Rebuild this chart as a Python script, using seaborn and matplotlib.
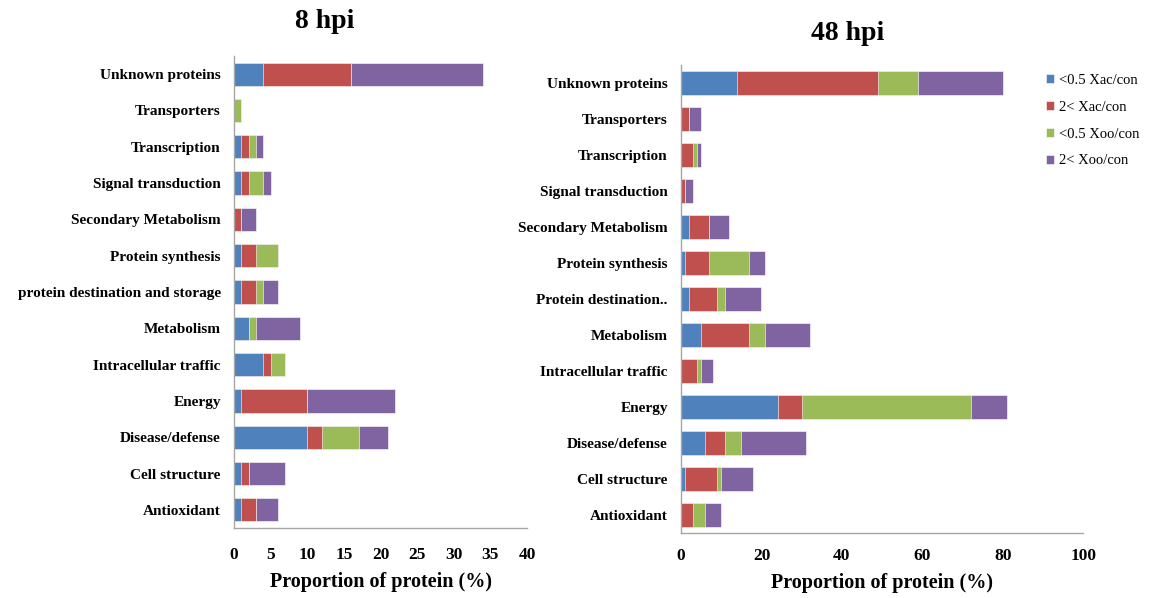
import matplotlib
matplotlib.use("Agg")
import matplotlib.pyplot as plt
import matplotlib.patches as mpatches
import numpy as np
import pandas as pd
import seaborn as sns

sns.set_theme(style="white")
plt.rcParams["font.family"] = ["Liberation Serif", "DejaVu Serif"]
plt.rcParams["text.color"] = "black"
plt.rcParams["xtick.color"] = "black"
plt.rcParams["ytick.color"] = "black"
plt.rcParams["axes.labelcolor"] = "black"

# Functional categories (top to bottom)
categories_8 = [
    "Unknown proteins", "Transporters", "Transcription", "Signal transduction",
    "Secondary Metabolism", "Protein synthesis", "protein destination and storage",
    "Metabolism", "Intracellular traffic", "Energy", "Disease/defense",
    "Cell structure", "Antioxidant",
]
categories_48 = [
    "Unknown proteins", "Transporters", "Transcription", "Signal transduction",
    "Secondary Metabolism", "Protein synthesis", "Protein destination..",
    "Metabolism", "Intracellular traffic", "Energy", "Disease/defense",
    "Cell structure", "Antioxidant",
]

series_names = ["<0.5 Xac/con", "2< Xac/con", "<0.5 Xoo/con", "2< Xoo/con"]
series_colors = ["#4F81BD", "#C0504D", "#9BBB59", "#8064A2"]

# 8 hpi proportions (%)
xac_down_8 = [4, 0, 1, 1, 0, 1, 1, 2, 4, 1, 10, 1, 1]
xac_up_8 = [12, 0, 1, 1, 1, 2, 2, 0, 1, 9, 2, 1, 2]
xoo_down_8 = [0, 1, 1, 2, 0, 3, 1, 1, 2, 0, 5, 0, 0]
xoo_up_8 = [18, 0, 1, 1, 2, 0, 2, 6, 0, 12, 4, 5, 3]

# 48 hpi proportions (%)
xac_down_48 = [14, 0, 0, 0, 2, 1, 2, 5, 0, 24, 6, 1, 0]
xac_up_48 = [35, 2, 3, 1, 5, 6, 7, 12, 4, 6, 5, 8, 3]
xoo_down_48 = [10, 0, 1, 0, 0, 10, 2, 4, 1, 42, 4, 1, 3]
xoo_up_48 = [21, 3, 1, 2, 5, 4, 9, 11, 3, 9, 16, 8, 4]

fig = plt.figure(figsize=(11.51, 5.98), dpi=100)
ax1 = fig.add_axes([0.2033, 0.1171, 0.2546, 0.7893])
ax2 = fig.add_axes([0.5917, 0.1087, 0.3493, 0.7826])


def stacked(ax, cats, layers, xmax, step, title, title_xy, tickpad):
    df = pd.DataFrame({"category": cats})
    cum = np.cumsum(np.array(layers, dtype=float), axis=0)
    # draw cumulative totals from the outermost segment inwards
    for i in range(len(layers) - 1, -1, -1):
        df["total"] = cum[i]
        sns.barplot(data=df, x="total", y="category", orient="h", ax=ax,
                    color=series_colors[i], saturation=1, width=0.64,
                    edgecolor="white", linewidth=0.4, order=cats)
    ax.set_xlim(0, xmax)
    ax.set_ylim(len(cats) - 0.5, -0.5)
    ax.set_xticks(np.arange(0, xmax + 0.1, step))
    ax.set_xticklabels([f"{int(v)}" for v in np.arange(0, xmax + 0.1, step)],
                       fontsize=12.5, fontweight="bold")
    ax.tick_params(axis="x", length=0, pad=tickpad)
    ax.tick_params(axis="y", length=0, pad=9.5)
    for lbl in ax.get_yticklabels():
        lbl.set_fontsize(11)
        lbl.set_fontweight("bold")
    ax.set_ylabel("")
    ax.set_xlabel("Proportion of protein (%)", fontsize=14.5, fontweight="bold",
                  labelpad=6)
    for side in ["top", "right"]:
        ax.spines[side].set_visible(False)
    for side in ["left", "bottom"]:
        ax.spines[side].set_color("#A6A6A6")
        ax.spines[side].set_linewidth(1.0)
    ax.grid(False)
    fig.text(title_xy[0], title_xy[1], title, ha="center", va="center",
             fontsize=20, fontweight="bold")


stacked(ax1, categories_8, [xac_down_8, xac_up_8, xoo_down_8, xoo_up_8],
        40, 5, "8 hpi", (325 / 1151, 1 - 22 / 598), 14)
stacked(ax2, categories_48, [xac_down_48, xac_up_48, xoo_down_48, xoo_up_48],
        100, 20, "48 hpi", (848 / 1151, 1 - 33 / 598), 11)

handles = [mpatches.Patch(facecolor=c, edgecolor="white", linewidth=0.4, label=n)
           for n, c in zip(series_names, series_colors)]
fig.legend(handles=handles, loc="upper left",
           bbox_to_anchor=(1040 / 1151, 1 - 68 / 598), frameon=False,
           fontsize=10.5, handlelength=0.55, handleheight=0.55,
           handletextpad=0.35, labelspacing=0.95, borderaxespad=0)

fig.savefig("out.png", dpi=100)
